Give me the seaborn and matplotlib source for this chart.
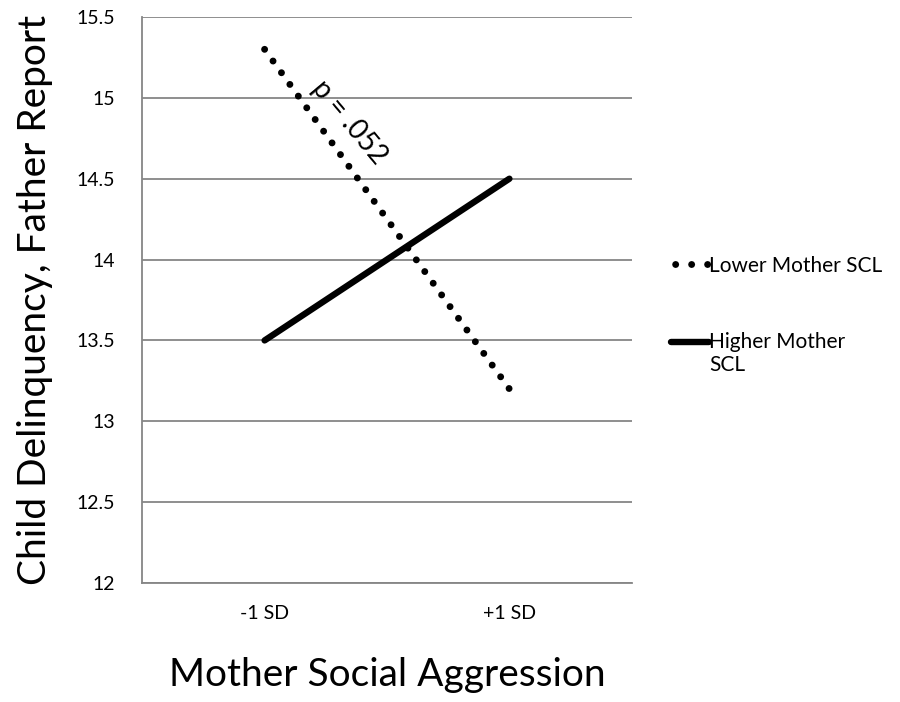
import matplotlib
matplotlib.use("Agg")
import matplotlib.pyplot as plt
import seaborn as sns
import pandas as pd
from matplotlib.ticker import FixedLocator, NullFormatter
from matplotlib.legend_handler import HandlerLine2D

categories = ["-1 SD", "+1 SD"]
lower_scl = [15.3, 13.2]
higher_scl = [13.5, 14.5]
series_names = ["Lower Mother SCL", "Higher Mother\nSCL"]
y_ticks = [12, 12.5, 13, 13.5, 14, 14.5, 15, 15.5]
y_tick_labels = ["12", "12.5", "13", "13.5", "14", "14.5", "15", "15.5"]
annotation = "p = .052"

sns.set_theme(style="white")
plt.rcParams["font.family"] = ["Lato", "DejaVu Sans"]
plt.rcParams["text.color"] = "black"
plt.rcParams["axes.labelcolor"] = "black"
plt.rcParams["xtick.color"] = "black"
plt.rcParams["ytick.color"] = "black"


class ShiftedLineHandler(HandlerLine2D):
    def __init__(self, shift=0.0, dots=None, **kw):
        super().__init__(**kw)
        self.shift = shift
        self.dots = dots

    def create_artists(self, legend, orig_handle, xdescent, ydescent,
                       width, height, fontsize, trans):
        arts = super().create_artists(legend, orig_handle, xdescent,
                                      ydescent - 2 * self.shift, width, height,
                                      fontsize, trans)
        if self.dots is not None:
            for a in arts:
                a.set_linestyle(self.dots)
                a.set_dash_capstyle("round")
        return arts


fig = plt.figure(figsize=(9, 7.02), dpi=100)
ax = fig.add_axes([0.158, 0.1695, 0.544, 0.8063])

grid_c = "#868686"

cat = pd.Categorical(categories, categories=categories, ordered=True)
df_low = pd.DataFrame({"x": cat, "y": lower_scl})
df_high = pd.DataFrame({"x": cat, "y": higher_scl})

sns.lineplot(data=df_low, x="x", y="y", ax=ax, color="black", lw=5.0,
             linestyle=(0, (0.001, 2.075)), dash_capstyle="round",
             label=series_names[0], sort=False, zorder=3)
sns.lineplot(data=df_high, x="x", y="y", ax=ax, color="black", lw=4.6,
             solid_capstyle="round", label=series_names[1], sort=False, zorder=3)

ax.set_xlim(-0.5, 1.5)
ax.set_ylim(12, 15.5)
ax.set_yticks(y_ticks)
ax.set_yticklabels(y_tick_labels)
ax.set_xticks([0, 1])
ax.set_xticklabels(categories)
ax.xaxis.set_minor_locator(FixedLocator([-0.5, 0.5, 1.5]))
ax.xaxis.set_minor_formatter(NullFormatter())
ax.tick_params(axis="x", which="major", length=0, pad=16, labelsize=14, labelcolor="black")
ax.tick_params(axis="x", which="minor", length=5.5, width=1.2, color=grid_c, direction="out")
ax.tick_params(axis="y", which="major", length=6.5, width=1.2, color=grid_c, direction="out",
               labelsize=14, labelcolor="black", pad=13)

ax.yaxis.grid(True, color=grid_c, lw=1.3)
ax.set_axisbelow(True)
for s in ["top", "right"]:
    ax.spines[s].set_visible(False)
for s in ["left", "bottom"]:
    ax.spines[s].set_color(grid_c)
    ax.spines[s].set_linewidth(1.3)

ax.set_xlabel("Mother Social Aggression", fontsize=28, labelpad=25)
ax.set_ylabel("Child Delinquency, Father Report", fontsize=28, labelpad=17)

ax.text(0.347, 14.85, annotation, rotation=-50, ha="center", va="center",
        rotation_mode="anchor", fontsize=20, color="black")

handles, labels = ax.get_legend_handles_labels()
ax.get_legend().remove()
fig.legend(handles, labels, loc="upper left", bbox_to_anchor=(0.746, 0.636),
           frameon=False, fontsize=15, handlelength=1.8, handletextpad=0.0,
           labelspacing=2.7, borderpad=0, borderaxespad=0,
           handler_map={handles[0]: ShiftedLineHandler(shift=0, dots=(-0.6, (0.001, 2.3))),
                        handles[1]: ShiftedLineHandler(shift=9)})

fig.savefig("out.png", dpi=100)
